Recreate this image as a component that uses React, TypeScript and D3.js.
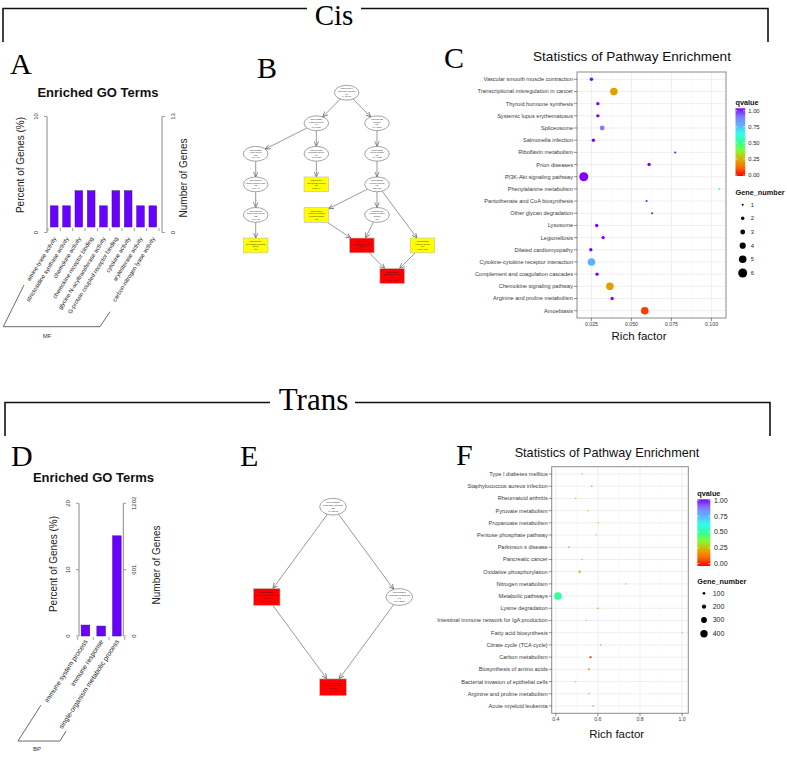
import React from "react";
import * as d3 from "d3";

const SERIF = "'Liberation Serif','Times New Roman',serif";
const SANS = "'Liberation Sans',Arial,Helvetica,sans-serif";

// ===== Panel A: Enriched GO Terms (Cis, MF) =====
const termsA = ["amine-lyase activity", "strictosidine synthase activity", "chemokine activity", "chemokine receptor binding", "glycine N-acyltransferase activity", "G-protein coupled receptor binding", "cytokine activity", "arylesterase activity", "carbon-nitrogen lyase activity"];
const percentA = [2.3, 2.3, 3.6, 3.6, 2.3, 3.6, 3.6, 2.3, 2.3];
const percentTicksA = [0, 10];
const geneTickLabelsA = ["0", "13"];

// ===== Panel D: Enriched GO Terms (Trans, BP) =====
const termsD = ["immune system process", "immune response", "single-organism metabolic process"];
const percentD = [1.65, 1.5, 15.1];
const percentTicksD = [0, 10, 20];
const geneTickLabelsD = ["0", "601", "1202"];

// ===== Panel C: KEGG enrichment (Cis) =====
const pathwaysC = ["Vascular smooth muscle contraction", "Transcriptional misregulation in cancer", "Thyroid hormone synthesis", "Systemic lupus erythematosus", "Spliceosome", "Salmonella infection", "Riboflavin metabolism", "Prion diseases", "PI3K-Akt signaling pathway", "Phenylalanine metabolism", "Pantothenate and CoA biosynthesis", "Other glycan degradation", "Lysosome", "Legionellosis", "Dilated cardiomyopathy", "Cytokine-cytokine receptor interaction", "Complement and coagulation cascades", "Chemokine signaling pathway", "Arginine and proline metabolism", "Amoebiasis"];
const richC = [0.0250, 0.0390, 0.0290, 0.0290, 0.0317, 0.0262, 0.0773, 0.0610, 0.0202, 0.1048, 0.0594, 0.0629, 0.0283, 0.0323, 0.0246, 0.0250, 0.0285, 0.0365, 0.0379, 0.0583];
const genesC = [2, 5, 2, 2, 3, 2, 1, 2, 6, 1, 1, 1, 2, 2, 2, 5, 2, 5, 2, 5];
const qC = [1, 0.22, 1, 1, 0.88, 1, 1, 1, 1, 0.62, 1, 1, 1, 1, 1, 0.75, 1, 0.22, 1, 0.07];
const xTicksC = [0.025, 0.05, 0.075, 0.1];
const xTickLabelsC = ["0.025", "0.050", "0.075", "0.100"];
const sizeLegendC = [1, 2, 3, 4, 5, 6];

// ===== Panel F: KEGG enrichment (Trans) =====
const pathwaysF = ["Type I diabetes mellitus", "Staphylococcus aureus infection", "Rheumatoid arthritis", "Pyruvate metabolism", "Propanoate metabolism", "Pentose phosphate pathway", "Parkinson s disease", "Pancreatic cancer", "Oxidative phosphorylation", "Nitrogen metabolism", "Metabolic pathways", "Lysine degradation", "Intestinal immune network for IgA production", "Fatty acid biosynthesis", "Citrate cycle (TCA cycle)", "Carbon metabolism", "Biosynthesis of amino acids", "Bacterial invasion of epithelial cells", "Arginine and proline metabolism", "Acute myeloid leukemia"];
const richF = [0.525, 0.571, 0.495, 0.554, 0.601, 0.592, 0.462, 0.525, 0.513, 0.733, 0.410, 0.600, 0.544, 1.000, 0.614, 0.565, 0.557, 0.494, 0.557, 0.578];
const genesF = [30, 35, 35, 30, 25, 25, 50, 30, 75, 15, 420, 30, 25, 10, 30, 85, 60, 40, 35, 35];
const qF = [0.42, 0.2, 0.38, 0.33, 0.3, 0.4, 0.45, 0.33, 0.2, 0.25, 0.5, 0.22, 0.38, 0.25, 0.25, 0.12, 0.2, 0.4, 0.25, 0.2];
const xTicksF = [0.4, 0.6, 0.8, 1.0];
const xTickLabelsF = ["0.4", "0.6", "0.8", "1.0"];
const sizeLegendF = [100, 200, 300, 400];

const qLegendTicks = [0, 0.25, 0.5, 0.75, 1];
const qLegendLabels = ["0.00", "0.25", "0.50", "0.75", "1.00"];
const qColors = ["#FF0000", "#FF6A00", "#D9B000", "#80FF33", "#33FF99", "#33FFEE", "#5CB3FF", "#7F7FFF", "#8000FF"];
const qColor = d3.piecewise(d3.interpolateRgb, qColors);

// ===== Panel B: GO DAG (Cis) =====
const dagLabelsB = [
  ["GO:0003674", "molecular_function", "9/9", "1 / 13493"],
  ["GO:0003824", "catalytic activity", "4/4", "0.8 / 5210"],
  ["GO:0005488", "binding", "5/5", "0.9 / 8100"],
  ["GO:0016829", "lyase activity", "2/2", "0.2 / 410"],
  ["GO:0016787", "hydrolase activity", "1/1", "0.3 / 2012"],
  ["GO:0005515", "protein binding", "5/5", "0.4 / 3022"],
  ["GO:0016840", "carbon-nitrogen lyase", "2/2", "0.01 / 40"],
  ["GO:0004064", "arylesterase activity", "2/2", "0.001 / 9"],
  ["GO:0005102", "receptor binding", "5/5", "0.05 / 560"],
  ["GO:0016843", "amine-lyase activity", "2/2", "0.01 / 12"],
  ["GO:0001664", "G-protein coupled", "receptor binding", "3/3"],
  ["GO:0005126", "cytokine receptor", "binding", "3/3"],
  ["GO:0016844", "strictosidine synthase", "activity", "2/2"],
  ["GO:0042379", "chemokine receptor", "binding", "3/3"],
  ["GO:0005125", "cytokine activity", "3/3", "0.001 / 120"],
  ["GO:0008009", "chemokine activity", "3/3", "1e-04 / 30"],
];
const dagKindsB = ["ellipse", "ellipse", "ellipse", "ellipse", "ellipse", "ellipse", "ellipse", "yellow", "ellipse", "ellipse", "yellow", "ellipse", "yellow", "red", "yellow", "red"];
const dagRowsB = [0, 1, 1, 2, 2, 2, 3, 3, 3, 4, 4, 4, 5, 5, 5, 6];
const dagColsB = [1.5, 1, 2, 0, 1, 2, 0, 1, 2, 0, 1, 2, 0, 1.75, 2.75, 2.25];
const dagEdgesB = [[0, 1], [0, 2], [1, 3], [1, 4], [2, 5], [3, 6], [4, 7], [5, 8], [6, 9], [8, 10], [8, 11], [8, 14], [9, 12], [10, 13], [11, 13], [13, 15], [14, 15]];

// ===== Panel E: GO DAG (Trans) =====
const dagLabelsE = [
  ["GO:0008150", "biological_process", "3/3", "1 / 13493"],
  ["GO:0002376", "immune system process", "1e-05", "50 / 1000"],
  ["GO:0050896", "response to stimulus", "0.2", "400 / 2500"],
  ["GO:0006955", "immune response", "2e-06", "48 / 700"],
];
const dagKindsE = ["ellipse", "red", "ellipse", "red"];
const dagRowsE = [0, 1, 1, 2];
const dagColsE = [1, 0, 2, 1];
const dagEdgesE = [[0, 1], [0, 2], [1, 3], [2, 3]];

// ---------------------------------------------------------------
function SectionHeader({ label, cx, baseline, fontSize, lineY, left, right, gapL, gapR, bottom }) {
  return (
    <g>
      <path d={`M${left},${bottom}V${lineY}H${gapL}M${gapR},${lineY}H${right}V${bottom}`} fill="none" stroke="#111" strokeWidth={1.6} />
      <text x={cx} y={baseline} textAnchor="middle" fontFamily={SERIF} fontSize={fontSize} fill="#000">{label}</text>
    </g>
  );
}

function PanelLetter({ ch, x, y }) {
  return <text x={x} y={y} fontFamily={SERIF} fontSize={30} fill="#000">{ch}</text>;
}

function GoBars(p) {
  const y = d3.scaleLinear().domain([0, p.pctTicks[p.pctTicks.length - 1]]).range([p.y0, p.y1]);
  const x = d3.scaleBand().domain(p.terms).range(p.bandRange).paddingInner(p.pi).paddingOuter(p.po);
  const base = y(0) - p.baseLift;
  const step = x.step();
  const boundaries = d3.range(p.terms.length + 1).map((i) => (x(p.terms[0]) - (step - x.bandwidth()) / 2) + i * step);
  const yTop = y(p.pctTicks[p.pctTicks.length - 1]);
  return (
    <g>
      <text x={p.titleX} y={p.titleY} textAnchor="middle" fontWeight="bold" fontSize={13} fill="#111">Enriched GO Terms</text>
      {p.terms.map((t, i) => (
        <rect key={t} x={x(t)} y={y(p.values[i])} width={x.bandwidth()} height={base - y(p.values[i])} fill="#6A00FF" stroke="#3d1a8a" strokeWidth={0.5} />
      ))}
      {boundaries.map((bx, i) => (
        <line key={i} x1={bx} x2={bx} y1={base + 1} y2={base + 4} stroke="#777" strokeWidth={0.7} />
      ))}
      <line x1={p.xl} x2={p.xl} y1={y(0)} y2={yTop} stroke="#888" strokeWidth={1} />
      <line x1={p.xr} x2={p.xr} y1={y(0)} y2={yTop} stroke="#888" strokeWidth={1} />
      {p.pctTicks.map((v, i) => (
        <g key={"l" + i}>
          <line x1={p.xl - 3} x2={p.xl} y1={y(v)} y2={y(v)} stroke="#888" strokeWidth={0.8} />
          <text transform={`translate(${p.xl - 9},${y(v)}) rotate(-90)`} textAnchor="middle" fontSize={6} fill="#333">{v}</text>
          <line x1={p.xr} x2={p.xr + 3} y1={y(v)} y2={y(v)} stroke="#888" strokeWidth={0.8} />
          <text transform={`translate(${p.xr + 13},${y(v)}) rotate(-90)`} textAnchor="middle" fontSize={6} fill="#333">{p.geneLabels[i]}</text>
        </g>
      ))}
      <text transform={`translate(${p.leftTitleX},${p.leftTitleY}) rotate(-90)`} textAnchor="middle" fontSize={10} fill="#222">Percent of Genes (%)</text>
      <text transform={`translate(${p.rightTitleX},${p.rightTitleY}) rotate(-90)`} textAnchor="middle" fontSize={10} fill="#222">Number of Genes</text>
      {p.terms.map((t) => (
        <text key={"t" + t} transform={`translate(${x(t) + x.bandwidth() / 2 + p.labelDX},${p.labelY}) rotate(${-p.angle})`} textAnchor="end" fontSize={p.labelFont} fill="#222">{t}</text>
      ))}
      <polyline points={p.bracket.map((q) => q.join(",")).join(" ")} fill="none" stroke="#444" strokeWidth={0.8} />
      <text x={p.ontX} y={p.ontY} textAnchor="middle" fontSize={6} fill="#333">{p.ontology}</text>
    </g>
  );
}

function Dag({ labels, kinds, rows, cols, edges, colScale, rowScale, rx, ry, fs }) {
  const nodes = labels.map((l, i) => ({ l, kind: kinds[i], x: colScale(cols[i]), y: rowScale(rows[i]) }));
  const clip = (n, dx, dy) => {
    if (n.kind === "ellipse") return 1 / Math.sqrt((dx / rx) ** 2 + (dy / ry) ** 2);
    return Math.min(rx / Math.max(Math.abs(dx), 1e-9), ry / Math.max(Math.abs(dy), 1e-9));
  };
  return (
    <g>
      {edges.map(([a, b], i) => {
        const s = nodes[a], t = nodes[b];
        const dx = t.x - s.x, dy = t.y - s.y;
        const ts = clip(s, dx, dy), tt = clip(t, -dx, -dy);
        return (
          <line key={i} x1={s.x + dx * ts} y1={s.y + dy * ts} x2={t.x - dx * tt} y2={t.y - dy * tt} stroke="#555" strokeWidth={0.6} markerEnd="url(#vee)" />
        );
      })}
      {nodes.map((n, i) => (
        <g key={i}>
          {n.kind === "ellipse" ? (
            <ellipse cx={n.x} cy={n.y} rx={rx} ry={ry} fill="#fff" stroke="#666" strokeWidth={0.6} />
          ) : (
            <rect x={n.x - rx} y={n.y - ry} width={rx * 2} height={ry * 2} fill={n.kind === "red" ? "#FF0000" : "#FFFF00"} stroke="#bbb" strokeWidth={0.6} />
          )}
          {n.l.map((s, k) => (
            <text key={k} x={n.x} y={n.y - ry * 0.55 + k * fs * 1.25 + fs * 0.4} textAnchor="middle" fontSize={fs} fill="#222">{s}</text>
          ))}
        </g>
      ))}
    </g>
  );
}

function Bubble(p) {
  const [mn, mx] = d3.extent(p.rich);
  const pad = (mx - mn) * 0.05;
  const x = d3.scaleLinear().domain([mn - pad, mx + pad]).range([p.left, p.right]);
  const y = d3.scalePoint().domain(p.pathways).range([p.top, p.bottom]).padding(0.6);
  const r = d3.scaleLinear().domain(p.sizeDomain).range(p.sizeRange);
  const minor = [];
  for (let i = 0; i < p.xTicks.length - 1; i++) minor.push((p.xTicks[i] + p.xTicks[i + 1]) / 2);
  const stepT = p.xTicks[1] - p.xTicks[0];
  const lo = p.xTicks[0] - stepT / 2, hi = p.xTicks[p.xTicks.length - 1] + stepT / 2;
  if (lo > x.domain()[0]) minor.unshift(lo);
  if (hi < x.domain()[1]) minor.push(hi);
  const qy = d3.scaleLinear().domain([0, 1]).range([p.cb.y0, p.cb.y1]);
  const gid = "grad" + p.id;
  return (
    <g>
      <defs>
        <linearGradient id={gid} x1="0" y1="1" x2="0" y2="0">
          {d3.range(0, 1.0001, 0.05).map((t) => (
            <stop key={t} offset={t} stopColor={qColor(t)} />
          ))}
        </linearGradient>
      </defs>
      <text x={p.titleX} y={p.titleY} textAnchor="middle" fontSize={p.titleFont} fill="#111">Statistics of Pathway Enrichment</text>
      <rect x={p.left} y={p.top} width={p.right - p.left} height={p.bottom - p.top} fill="#fff" />
      {minor.map((v, i) => (
        <line key={"m" + i} x1={x(v)} x2={x(v)} y1={p.top} y2={p.bottom} stroke="#F4F4F4" strokeWidth={0.5} />
      ))}
      {p.xTicks.map((v, i) => (
        <line key={"g" + i} x1={x(v)} x2={x(v)} y1={p.top} y2={p.bottom} stroke="#EBEBEB" strokeWidth={0.8} />
      ))}
      {p.pathways.map((d) => (
        <line key={"h" + d} x1={p.left} x2={p.right} y1={y(d)} y2={y(d)} stroke="#EBEBEB" strokeWidth={0.8} />
      ))}
      {p.pathways.map((d, i) => (
        <circle key={"c" + d} cx={x(p.rich[i])} cy={y(d)} r={r(p.genes[i])} fill={qColor(p.q[i])} />
      ))}
      <rect x={p.left} y={p.top} width={p.right - p.left} height={p.bottom - p.top} fill="none" stroke="#8a8a8a" strokeWidth={1} />
      {p.pathways.map((d) => (
        <g key={"y" + d}>
          <line x1={p.left - 3} x2={p.left} y1={y(d)} y2={y(d)} stroke="#444" strokeWidth={0.6} />
          <text x={p.left - 4} y={y(d) + p.labelFont * 0.35} textAnchor="end" fontSize={p.labelFont} fill="#3a3a3a">{d}</text>
        </g>
      ))}
      {p.xTicks.map((v, i) => (
        <g key={"x" + i}>
          <line x1={x(v)} x2={x(v)} y1={p.bottom} y2={p.bottom + 3} stroke="#444" strokeWidth={0.6} />
          <text x={x(v)} y={p.bottom + 8} textAnchor="middle" fontSize={p.tickFont} fill="#3a3a3a">{p.xTickLabels[i]}</text>
        </g>
      ))}
      <text x={p.xTitleX} y={p.xTitleY} textAnchor="middle" fontSize={11.5} fill="#111">Rich factor</text>
      <text x={p.cb.x} y={p.cb.titleY} fontSize={7.3} fontWeight="bold" fill="#111">qvalue</text>
      <rect x={p.cb.x} y={p.cb.top} width={p.cb.w} height={p.cb.bottom - p.cb.top} fill={`url(#${gid})`} />
      {qLegendTicks.map((v, i) => (
        <g key={"q" + i}>
          <line x1={p.cb.x} x2={p.cb.x + 2} y1={qy(v)} y2={qy(v)} stroke="#fff" strokeWidth={0.6} />
          <line x1={p.cb.x + p.cb.w - 2} x2={p.cb.x + p.cb.w} y1={qy(v)} y2={qy(v)} stroke="#fff" strokeWidth={0.6} />
          <text x={p.cb.labelX} y={qy(v) + p.cb.font * 0.35} fontSize={p.cb.font} fill="#222">{qLegendLabels[i]}</text>
        </g>
      ))}
      <text x={p.cb.x} y={p.sl.titleY} fontSize={7.3} fontWeight="bold" fill="#111">Gene_number</text>
      {p.sizeLegend.map((v, i) => (
        <g key={"s" + v}>
          <circle cx={p.sl.cx} cy={p.sl.ys[i]} r={r(v)} fill="#000" />
          <text x={p.sl.labelX} y={p.sl.ys[i] + p.cb.font * 0.35} fontSize={p.cb.font} fill="#222">{v}</text>
        </g>
      ))}
    </g>
  );
}

export default function App() {
  const colB = d3.scaleLinear().domain([0, 2]).range([255.7, 377]);
  const rowB = d3.scaleLinear().domain([0, 6]).range([92.7, 276]);
  const colE = d3.scaleLinear().domain([0, 2]).range([266.7, 399.3]);
  const rowE = d3.scaleLinear().domain([0, 2]).range([506.7, 687.3]);
  return (
    <svg width={787} height={757} viewBox="0 0 787 757" style={{ position: "absolute", left: 0, top: 0, background: "#fff" }} fontFamily={SANS}>
      <defs>
        <marker id="vee" viewBox="0 0 10 10" refX="9.5" refY="5" markerWidth="5.5" markerHeight="5.5" markerUnits="userSpaceOnUse" orient="auto">
          <path d="M0,0.8 L9.5,5 L0,9.2" fill="none" stroke="#555" strokeWidth="1.2" />
        </marker>
      </defs>
      <rect x={0} y={0} width={787} height={757} fill="#fff" />

      <SectionHeader label="Cis" cx={334} baseline={25} fontSize={29} lineY={8.5} left={3} right={768} gapL={307} gapR={361} bottom={42} />
      <SectionHeader label="Trans" cx={313.5} baseline={410} fontSize={31} lineY={402.5} left={5} right={770} gapL={270} gapR={355} bottom={436} />

      <PanelLetter ch="A" x={10} y={74} />
      <PanelLetter ch="B" x={257} y={78} />
      <PanelLetter ch="C" x={444} y={68} />
      <PanelLetter ch="D" x={11} y={466} />
      <PanelLetter ch="E" x={240} y={466} />
      <PanelLetter ch="F" x={456} y={465} />

      <GoBars terms={termsA} values={percentA} pctTicks={percentTicksA} geneLabels={geneTickLabelsA}
        y0={232.5} y1={116.5} baseLift={5.5} xl={47} xr={162} bandRange={[48, 159]} pi={0.375} po={0.19}
        titleX={98} titleY={96.5} leftTitleX={23.5} leftTitleY={165} rightTitleX={186.5} rightTitleY={178}
        labelDX={2.4} labelY={238.5} angle={58} labelFont={5.8}
        bracket={[[24, 285], [3.3, 326.7], [100, 326.7], [110, 311.7]]} ontology="MF" ontX={47} ontY={338} />

      <GoBars terms={termsD} values={percentD} pctTicks={percentTicksD} geneLabels={geneTickLabelsD}
        y0={636} y1={503.3} baseLift={0} xl={79} xr={123.3} bandRange={[79, 123.3]} pi={0.45} po={0.135}
        titleX={93.5} titleY={481.7} leftTitleX={56.5} leftTitleY={564} rightTitleX={159.5} rightTitleY={565}
        labelDX={2.5} labelY={641.5} angle={57} labelFont={6.8}
        bracket={[[41, 705], [18, 741], [60, 741], [66, 731]]} ontology="BP" ontX={37} ontY={751} />

      <Dag labels={dagLabelsB} kinds={dagKindsB} rows={dagRowsB} cols={dagColsB} edges={dagEdgesB} colScale={colB} rowScale={rowB} rx={12.3} ry={7.4} fs={2.1} />
      <Dag labels={dagLabelsE} kinds={dagKindsE} rows={dagRowsE} cols={dagColsE} edges={dagEdgesE} colScale={colE} rowScale={rowE} rx={13.3} ry={8.4} fs={2.3} />

      <Bubble id="C" pathways={pathwaysC} rich={richC} genes={genesC} q={qC} xTicks={xTicksC} xTickLabels={xTickLabelsC}
        left={577} right={726} top={72} bottom={318} titleX={632} titleY={60.7} titleFont={13.6}
        xTitleX={639} xTitleY={339.5} labelFont={5.6} tickFont={5.2}
        sizeDomain={[1, 6]} sizeRange={[1.0, 4.5]} sizeLegend={sizeLegendC}
        cb={{ x: 735.5, titleY: 104.5, top: 108.3, bottom: 176, w: 9.7, y0: 175, y1: 110.7, labelX: 748.3, font: 5.8 }}
        sl={{ titleY: 195, ys: [204.7, 218.3, 232, 245.7, 259.3, 273], cx: 742.7, labelX: 750.7 }} />

      <Bubble id="F" pathways={pathwaysF} rich={richF} genes={genesF} q={qF} xTicks={xTicksF} xTickLabels={xTickLabelsF}
        left={551.7} right={688.3} top={466.7} bottom={713.3} titleX={607} titleY={456.7} titleFont={12.7}
        xTitleX={616.7} xTitleY={738.3} labelFont={5.6} tickFont={5.2}
        sizeDomain={[100, 400]} sizeRange={[1.33, 3.7]} sizeLegend={sizeLegendF}
        cb={{ x: 697.3, titleY: 495.5, top: 499.3, bottom: 566, w: 13, y0: 563.7, y1: 500.3, labelX: 714, font: 7 }}
        sl={{ titleY: 583.5, ys: [593.3, 606.7, 620, 633.7], cx: 704, labelX: 712.7 }} />
    </svg>
  );
}
